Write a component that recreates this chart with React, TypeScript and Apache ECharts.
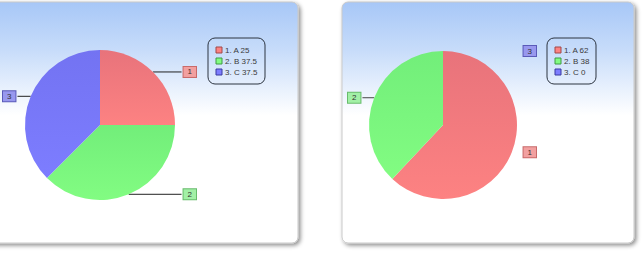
import React, { useEffect, useRef } from "react";
import * as echarts from "echarts";

const categories = ["A", "B", "C"];
const leftValues = [25, 37.5, 37.5];
const rightValues = [62, 38, 0];

const sliceTop = ["#e8737b", "#72ee7a", "#7373f2"];
const sliceBottom = ["#fd8282", "#82fc82", "#7d7dff"];
const tagFill = ["#f2a0a0", "#a2f0a6", "#9898ee"];
const tagBorder = ["#c86a6a", "#68bc6c", "#5a5ab8"];
const markerBorder = ["#a04848", "#3f9a44", "#3b3ba0"];

function buildData(values: number[], showLine: (i: number) => boolean) {
  return values.map((v, i) => ({
    name: categories[i],
    value: v,
    itemStyle: {
      color: {
        type: "linear",
        x: 0,
        y: 0,
        x2: 0,
        y2: 1,
        colorStops: [
          { offset: 0, color: sliceTop[i] },
          { offset: 1, color: sliceBottom[i] },
        ],
      },
    },
    label: {
      backgroundColor: tagFill[i],
      borderColor: tagBorder[i],
    },
    labelLine: { show: showLine(i) },
  }));
}

function legendGraphic(x: number, y: number, w: number, values: number[]) {
  const children: any[] = [
    {
      type: "rect",
      shape: { x: 0, y: 0, width: w, height: 46, r: 7 },
      style: { fill: "rgba(255,255,255,0)", stroke: "#2c3440", lineWidth: 1 },
    },
  ];
  values.forEach((v, i) => {
    const cy = 12 + i * 11;
    children.push({
      type: "rect",
      shape: { x: 8, y: cy - 3, width: 6, height: 6 },
      style: { fill: sliceBottom[i], stroke: markerBorder[i], lineWidth: 1 },
    });
    children.push({
      type: "text",
      x: 17,
      y: cy,
      style: {
        text: `${i + 1}. ${categories[i]} ${v}`,
        fill: "#3a3a3a",
        font: "8px 'Liberation Sans', Arial, sans-serif",
        verticalAlign: "middle",
        align: "left",
      },
    });
  });
  return { type: "group", x, y, z: 20, children };
}

function panel(x: number, w: number) {
  return {
    type: "rect",
    z: -10,
    shape: { x, y: 2, width: w, height: 241, r: 6 },
    style: {
      fill: {
        type: "linear",
        x: 0,
        y: 0,
        x2: 0,
        y2: 1,
        colorStops: [
          { offset: 0, color: "#a7c7f7" },
          { offset: 0.2, color: "#c7dcfa" },
          { offset: 0.47, color: "#ffffff" },
          { offset: 1, color: "#ffffff" },
        ],
      },
      stroke: "#c9c9c9",
      lineWidth: 1,
      shadowBlur: 4,
      shadowColor: "rgba(0,0,0,0.45)",
      shadowOffsetX: 2,
      shadowOffsetY: 2,
    },
  };
}

const pieLabel = {
  show: true,
  position: "outside",
  alignTo: "edge",
  edgeDistance: 0,
  distanceToLabelLine: 0,
  formatter: (p: any) => String(p.dataIndex + 1),
  fontSize: 8,
  lineHeight: 8,
  color: "#333333",
  fontFamily: "'Liberation Sans', Arial, sans-serif",
  padding: [1, 4, 1, 4],
  borderWidth: 1,
};

export default function App() {
  const ref = useRef<HTMLDivElement>(null);
  useEffect(() => {
    if (!ref.current) return;
    const chart = echarts.init(ref.current, undefined, { renderer: "svg" });
    chart.setOption({
      animation: false,
      backgroundColor: "#ffffff",
      graphic: [
        panel(-12, 310),
        panel(342, 292),
        legendGraphic(208, 38, 57, leftValues),
        legendGraphic(547, 38, 49, rightValues),
      ],
      series: [
        {
          type: "pie",
          left: 3,
          top: 0,
          width: 193,
          height: 262,
          center: [97, 125],
          radius: 75,
          startAngle: 90,
          clockwise: true,
          avoidLabelOverlap: true,
          label: pieLabel,
          labelLine: {
            show: true,
            length: 0,
            length2: 0,
            lineStyle: { color: "#222222", width: 1 },
          },
          emphasis: { disabled: true },
          data: buildData(leftValues, () => true),
        },
        {
          type: "pie",
          left: 348,
          top: 0,
          width: 188,
          height: 262,
          center: [95, 125],
          radius: 74,
          startAngle: 89.99,
          clockwise: true,
          avoidLabelOverlap: true,
          label: pieLabel,
          labelLine: {
            show: true,
            length: 0,
            length2: 0,
            lineStyle: { color: "#444444", width: 1 },
          },
          emphasis: { disabled: true },
          data: buildData(rightValues, (i) => i === 1),
        },
      ],
    });
    return () => chart.dispose();
  }, []);
  return (
    <div
      ref={ref}
      style={{ position: "fixed", left: 0, top: 0, width: 642, height: 262 }}
    />
  );
}
